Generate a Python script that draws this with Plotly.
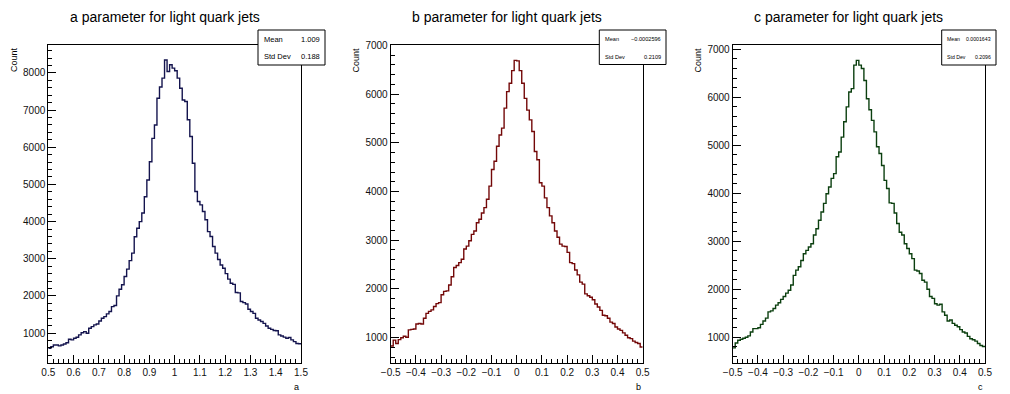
import plotly.graph_objects as go

W, H = 1010, 394

# ---------------- data ----------------
a_edges_lo, a_edges_hi = 0.5, 1.5
b_edges_lo, b_edges_hi = -0.5, 0.5
c_edges_lo, c_edges_hi = -0.5, 0.5
n_bins = 100

a_counts = [590, 630, 680, 680, 655, 680, 707, 740, 833, 815,
            860, 887, 950, 1010, 1039, 995, 1129, 1174, 1219, 1245,
            1326, 1398, 1443, 1515, 1578, 1712, 1740, 2000, 2180, 2300,
            2520, 2720, 2950, 3150, 3590, 3820, 4000, 4230, 4670, 5120,
            5610, 6240, 6600, 7320, 7620, 7860, 8350, 8040, 8220, 8130,
            8060, 7860, 7590, 7270, 7230, 6740, 6290, 5570, 4810, 4540,
            4450, 4270, 4050, 3730, 3600, 3330, 3150, 2980, 2830, 2745,
            2600, 2450, 2340, 2310, 2090, 2080, 1850, 1820, 1780, 1640,
            1580, 1530, 1400, 1350, 1310, 1260, 1190, 1130, 1100, 1070,
            1060, 950, 920, 890, 860, 880, 815, 770, 720, 710]

b_counts = [830, 950, 880, 960, 1000, 1030, 1010, 1160, 1170, 1180,
            1280, 1290, 1280, 1400, 1500, 1540, 1570, 1640, 1700, 1720,
            1880, 1950, 1960, 2080, 2250, 2440, 2480, 2540, 2610, 2820,
            2880, 2990, 3120, 3190, 3360, 3430, 3560, 3670, 3840, 4110,
            4450, 4620, 4930, 5160, 5300, 5710, 6050, 6220, 6480, 6690,
            6680, 6480, 6220, 5910, 5670, 5470, 5230, 4820, 4650, 4180,
            4110, 3870, 3670, 3500, 3360, 3190, 3060, 2920, 2880, 2870,
            2750, 2540, 2520, 2390, 2290, 2140, 2100, 1900, 1860, 1830,
            1780, 1690, 1630, 1560, 1460, 1450, 1400, 1320, 1290, 1220,
            1180, 1150, 1100, 1050, 1000, 980, 930, 900, 880, 810]

c_counts = [780, 880, 940, 960, 980, 1000, 1030, 1110, 1180, 1180,
            1200, 1270, 1340, 1400, 1530, 1550, 1600, 1670, 1720, 1790,
            1850, 1920, 1980, 2090, 2290, 2400, 2470, 2600, 2740, 2810,
            2880, 2950, 3130, 3260, 3440, 3610, 3790, 3990, 4130, 4310,
            4410, 4760, 4860, 5170, 5490, 5800, 6110, 6180, 6670, 6770,
            6670, 6600, 6350, 5970, 5740, 5520, 5280, 4970, 4830, 4580,
            4270, 4100, 3800, 3790, 3590, 3370, 3190, 3130, 2950, 2850,
            2740, 2640, 2400, 2380, 2330, 2190, 2150, 2000, 1850, 1810,
            1700, 1670, 1690, 1530, 1460, 1340, 1360, 1290, 1250, 1220,
            1160, 1110, 1090, 1020, 970, 950, 920, 870, 830, 810]

titles = ["a parameter for light quark jets",
          "b parameter for light quark jets",
          "c parameter for light quark jets"]
axis_titles = ["a", "b", "c"]
means = ["1.009", "\u22120.0002596", "0.0001643"]
stddevs = ["0.188", "0.2109", "0.2096"]

a_ticks = [0.5, 0.6, 0.7, 0.8, 0.9, 1.0, 1.1, 1.2, 1.3, 1.4, 1.5]
a_ticktext = ["0.5", "0.6", "0.7", "0.8", "0.9", "1", "1.1", "1.2", "1.3", "1.4", "1.5"]
bc_ticks = [-0.5, -0.4, -0.3, -0.2, -0.1, 0.0, 0.1, 0.2, 0.3, 0.4, 0.5]
bc_ticktext = ["\u22120.5", "\u22120.4", "\u22120.3", "\u22120.2", "\u22120.1", "0",
               "0.1", "0.2", "0.3", "0.4", "0.5"]
a_yticks = [1000, 2000, 3000, 4000, 5000, 6000, 7000, 8000]
bc_yticks = [1000, 2000, 3000, 4000, 5000, 6000, 7000]

# ---------------- layout geometry (pixels) ----------------
panels = [
    dict(x0=48.3, x1=301.0, yr=[202, 8744], xr=[a_edges_lo, a_edges_hi], counts=a_counts,
         color="#14144e", ticks=a_ticks, ticktext=a_ticktext, yticks=a_yticks,
         title_x=165, box=(258, 30, 325, 65), statfont=7.5),
    dict(x0=390.7, x1=642.7, yr=[487, 7000], xr=[b_edges_lo, b_edges_hi], counts=b_counts,
         color="#730808", ticks=bc_ticks, ticktext=bc_ticktext, yticks=bc_yticks,
         title_x=507, box=(599.3, 30, 666, 64.5), statfont=5.6),
    dict(x0=732.7, x1=985.0, yr=[471, 7083], xr=[c_edges_lo, c_edges_hi], counts=c_counts,
         color="#0b3f0f", ticks=bc_ticks, ticktext=bc_ticktext, yticks=bc_yticks,
         title_x=848, box=(941.7, 30, 996, 65), statfont=5.2),
]
frame_top, frame_bot = 45.3, 362.7

def px(x):
    return x / W

def py(y):
    return 1 - y / H

FONT = "Liberation Sans, Arial, Helvetica, sans-serif"

fig = go.Figure()
layout = dict(
    width=W, height=H, margin=dict(l=0, r=0, t=0, b=0, autoexpand=False),
    paper_bgcolor="white", plot_bgcolor="white", showlegend=False,
    font=dict(family=FONT, color="black"),
)
shapes = []
annotations = []

for i, p in enumerate(panels):
    n = i + 1
    xa = "xaxis" if n == 1 else f"xaxis{n}"
    ya = "yaxis" if n == 1 else f"yaxis{n}"
    xref = "x" if n == 1 else f"x{n}"
    yref = "y" if n == 1 else f"y{n}"
    lo, hi = p["xr"]
    width = (hi - lo) / n_bins
    edges = [lo + k * width for k in range(n_bins + 1)]
    yvals = list(p["counts"]) + [p["counts"][-1]]
    fig.add_trace(go.Scatter(
        x=edges, y=yvals, mode="lines", line=dict(color=p["color"], width=1.4, shape="hv"),
        xaxis=xref, yaxis=yref, hoverinfo="skip", cliponaxis=True))

    layout[xa] = dict(
        domain=[px(p["x0"]), px(p["x1"])], range=[lo, hi], anchor=yref,
        showline=True, linecolor="black", linewidth=1, mirror=True,
        showgrid=False, zeroline=False, automargin=False,
        tickmode="array", tickvals=p["ticks"], ticktext=p["ticktext"],
        ticks="inside", ticklen=8, tickwidth=1, tickcolor="black",
        tickfont=dict(size=10, family=FONT, color="#111"),
        minor=dict(dtick=width * 2, tick0=lo, ticks="inside", ticklen=4,
                   tickwidth=1, tickcolor="black", showgrid=False),
    )
    layout[ya] = dict(
        domain=[py(frame_bot), py(frame_top)], range=p["yr"], anchor=xref,
        showline=True, linecolor="black", linewidth=1, mirror=True,
        showgrid=False, zeroline=False, automargin=False,
        tickmode="array", tickvals=p["yticks"], ticktext=[str(v) for v in p["yticks"]],
        ticks="inside", ticklen=8, tickwidth=1, tickcolor="black",
        tickfont=dict(size=10, family=FONT, color="#111"),
        minor=dict(dtick=200, tick0=0, ticks="inside", ticklen=4,
                   tickwidth=1, tickcolor="black", showgrid=False),
        ticklabelstandoff=0,
    )

    # title
    annotations.append(dict(
        text=titles[i], x=px(p["title_x"]), y=py(17), xref="paper", yref="paper",
        xanchor="center", yanchor="middle", showarrow=False,
        font=dict(size=14, family=FONT, color="black")))
    # y axis title
    annotations.append(dict(
        text="Count", x=px(p["x0"] - 35), y=py(frame_top), xref="paper", yref="paper",
        xanchor="center", yanchor="top", textangle=-90, showarrow=False,
        font=dict(size=9, family=FONT, color="black")))
    # x axis title
    annotations.append(dict(
        text=axis_titles[i], x=px(p["x1"]), y=py(387), xref="paper", yref="paper",
        xanchor="right", yanchor="middle", showarrow=False,
        font=dict(size=9, family=FONT, color="black")))

    # stats box
    bx0, by0, bx1, by1 = p["box"]
    shapes.append(dict(type="rect", xref="paper", yref="paper",
                       x0=px(bx0), x1=px(bx1), y0=py(by1), y1=py(by0),
                       line=dict(color="black", width=1), fillcolor="white", layer="above"))
    for row, (lab, val) in enumerate([("Mean", means[i]), ("Std Dev", stddevs[i])]):
        yy = by0 + (by1 - by0) * (0.27 + 0.5 * row)
        annotations.append(dict(
            text=lab, x=px(bx0 + 3.5), y=py(yy), xref="paper", yref="paper",
            xanchor="left", yanchor="middle", showarrow=False,
            font=dict(size=p["statfont"], family=FONT, color="black")))
        annotations.append(dict(
            text=val, x=px(bx1 - 3), y=py(yy), xref="paper", yref="paper",
            xanchor="right", yanchor="middle", showarrow=False,
            font=dict(size=p["statfont"], family=FONT, color="black")))

layout["shapes"] = shapes
layout["annotations"] = annotations
fig.update_layout(**layout)
fig.write_html("out.html")
